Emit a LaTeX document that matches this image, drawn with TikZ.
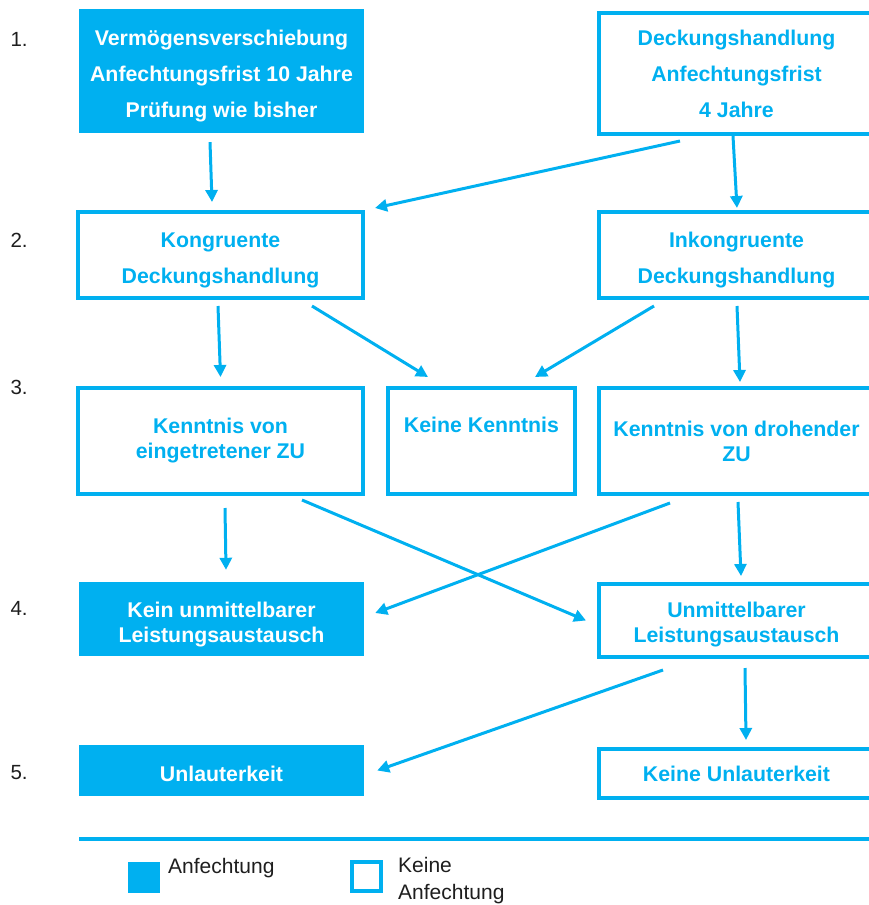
\documentclass[tikz,border=0pt]{standalone}
\usepackage{fontspec}
\setmainfont{Liberation Sans}
\usepackage{tikz}
\usetikzlibrary{arrows.meta,positioning}

\definecolor{cyanblue}{RGB}{0,176,240}
\definecolor{labelgray}{RGB}{30,30,30}

\tikzset{
  widefont/.style={font=\fontsize{21.3}{36}\selectfont\bfseries},
  tightfont/.style={font=\fontsize{21.3}{25}\selectfont\bfseries},
  fillbox/.style={fill=cyanblue,text=white,inner sep=0pt,align=center,minimum width=285pt},
  linebox/.style={draw=cyanblue,line width=4pt,text=cyanblue,inner sep=0pt,align=center},
  rightbox/.style={linebox,minimum width=275pt},
  rowlabel/.style={anchor=west,text=labelgray,font=\fontsize{20.5}{25}\selectfont},
  flow/.style={->,draw=cyanblue,line width=3pt}
}

\begin{document}
\begin{tikzpicture}[x=1pt,y=-1pt,>={Triangle[length=12pt,width=12pt]}]
\useasboundingbox (0,0) rectangle (868,905);

% step 1
\node[fillbox,widefont,text height=98pt,minimum height=124pt] (verschiebung) at (221.5,71)
  {Vermögensverschiebung\\Anfechtungsfrist 10 Jahre\\Prüfung wie bisher};
\node[rightbox,widefont,minimum height=121pt] (deckung) at (736.5,73.5)
  {Deckungshandlung\\Anfechtungsfrist\\4 Jahre};

% step 2
\node[linebox,widefont,text height=61pt,minimum width=285pt,minimum height=86pt] (kongruent) at (220.5,255)
  {Kongruente\\Deckungshandlung};
\node[rightbox,widefont,text height=61pt,minimum height=86pt,right=232pt of kongruent] (inkongruent)
  {Inkongruente\\Deckungshandlung};

% step 3
\node[linebox,tightfont,minimum width=285pt,minimum height=106pt,below=86pt of kongruent] (eingetreten)
  {Kenntnis von\\eingetretener ZU};
\node[linebox,tightfont,minimum width=187pt,minimum height=106pt,text height=14pt,text depth=32pt,right=21pt of eingetreten] (keinekenntnis)
  {Keine Kenntnis};
\node[rightbox,tightfont,minimum height=106pt,right=20pt of keinekenntnis] (drohend)
  {Kenntnis von drohender\\ZU};

% step 4
\node[fillbox,tightfont,text height=52pt,minimum height=74pt] (keinaustausch) at (221.5,619)
  {Kein unmittelbarer\\Leistungsaustausch};
\node[rightbox,tightfont,text height=48pt,minimum height=73pt] (austausch) at (736.5,620.5)
  {Unmittelbarer\\Leistungsaustausch};

% step 5
\node[fillbox,tightfont,text height=21.5pt,minimum height=51pt] (unlauter) at (221.5,770.5) {Unlauterkeit};
\node[rightbox,tightfont,minimum height=49pt] (keineunlauter) at (736.5,773.5)
  {Keine Unlauterkeit};

% row numbers
\node[rowlabel] (n1) at (7,39) {1.};
\node[rowlabel] (n2) at (7,240) {2.};
\node[rowlabel] (n3) at (7,387) {3.};
\node[rowlabel] (n4) at (7,608) {4.};
\node[rowlabel] (n5) at (7,773) {5.};

% arrows
\draw[flow] ([xshift=-11.5pt,yshift=-9pt]verschiebung.south) -- ([xshift=-8.5pt,yshift=8pt]kongruent.north);
\draw[flow] ([xshift=-56.5pt,yshift=-5pt]deckung.south) -- ([xshift=10pt,yshift=2pt]kongruent.north east);
\draw[flow] ([xshift=-3.5pt]deckung.south) -- ([xshift=0.5pt,yshift=2pt]inkongruent.north);
\draw[flow] ([xshift=-2.5pt,yshift=-6pt]kongruent.south) -- ([yshift=9pt]eingetreten.north);
\draw[flow] ([xshift=91.5pt,yshift=-6pt]kongruent.south) -- ([xshift=-53.5pt,yshift=9pt]keinekenntnis.north);
\draw[flow] ([xshift=-82.5pt,yshift=-6pt]inkongruent.south) -- ([xshift=53.5pt,yshift=9pt]keinekenntnis.north);
\draw[flow] ([xshift=0.5pt,yshift=-6pt]inkongruent.south) -- ([xshift=3.5pt,yshift=4pt]drohend.north);
\draw[flow] ([xshift=4.5pt,yshift=-12pt]eingetreten.south) -- ([xshift=4.5pt,yshift=12pt]keinaustausch.north);
\draw[flow] ([xshift=81.5pt,yshift=-4pt]eingetreten.south) -- ([xshift=-11pt]austausch.west);
\draw[flow] ([xshift=-66.5pt,yshift=-7pt]drohend.south) -- ([xshift=11pt,yshift=6pt]keinaustausch.east);
\draw[flow] ([xshift=1.5pt,yshift=-6pt]drohend.south) -- ([xshift=4.5pt,yshift=6pt]austausch.north);
\draw[flow] ([xshift=-73.5pt,yshift=-11pt]austausch.south) -- ([xshift=13pt]unlauter.east);
\draw[flow] ([xshift=8.5pt,yshift=-9pt]austausch.south) -- ([xshift=9.5pt,yshift=7pt]keineunlauter.north);

% legend
\draw[cyanblue,line width=4pt] (79,839) -- (872,839);
\node[fill=cyanblue,minimum width=32pt,minimum height=31pt,inner sep=0pt] (legfill) at (144,877.5) {};
\node[anchor=base west,font=\fontsize{21}{27}\selectfont,text=labelgray,inner sep=0pt] (legfilltext) at (168,873) {Anfechtung};
\node[draw=cyanblue,line width=4pt,minimum width=29pt,minimum height=29pt,inner sep=0pt] (legline) at (366.5,876.5) {};
\node[anchor=north west,align=left,font=\fontsize{21}{27}\selectfont,text=labelgray,inner sep=0pt] (leglinetext) at (398,857) {Keine\\Anfechtung};
\end{tikzpicture}
\end{document}
